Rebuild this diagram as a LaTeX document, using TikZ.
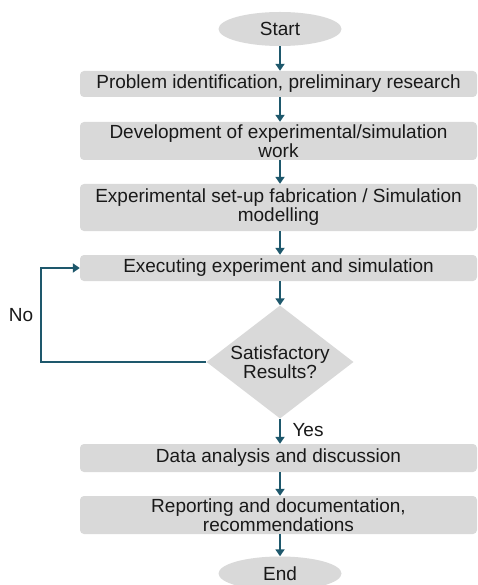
\documentclass[tikz,border=0pt]{standalone}
\usepackage{fontspec}
\setmainfont{Liberation Sans}
\usetikzlibrary{shapes.geometric,arrows.meta}
\definecolor{boxgray}{RGB}{217,217,217}
\definecolor{arrowteal}{RGB}{30,88,108}
\definecolor{txt}{RGB}{25,25,25}
\begin{document}
\begin{tikzpicture}[x=1pt,y=-1pt,
  every node/.style={text=txt,font=\fontsize{19}{19}\selectfont},
  stepbox/.style={draw=none,fill=boxgray,rounded corners=4pt,minimum width=397pt,inner sep=0pt,align=center},
  term/.style={ellipse,draw=none,fill=boxgray,minimum width=123pt,minimum height=34pt,inner sep=0pt},
  decision/.style={diamond,draw=none,fill=boxgray,minimum width=147pt,minimum height=113pt,inner sep=0pt,aspect=1.3,align=center},
  arr/.style={draw=arrowteal,line width=2pt,-{Triangle[width=9pt,length=7pt]}},
  lbl/.style={inner sep=0pt}]
\clip (0,0) rectangle (478,585);
\useasboundingbox (0,0) rectangle (478,585);
\fill[white] (0,0) rectangle (478,585);
\node[term] (start) at (280,29) {Start};
\node[stepbox,minimum height=26pt] (b1) at (278.5,84) {Problem identification, preliminary research};
\node[stepbox,minimum height=38pt] (b2) at (278.5,141) {Development of experimental/simulation\\work};
\node[stepbox,minimum height=47pt] (b3) at (278.5,207.5) {Experimental set-up fabrication / Simulation\\modelling};
\node[stepbox,minimum height=26pt] (b4) at (278.5,268) {Executing experiment and simulation};
\node[decision] (dec) at (280,362) {Satisfactory\\Results?};
\node[stepbox,minimum height=28pt] (b5) at (278.5,458) {Data analysis and discussion};
\node[stepbox,minimum height=38pt] (b6) at (278.5,515) {Reporting and documentation,\\recommendations};
\node[term] (end) at (280,573.5) {End};
\coordinate (fb) at (41,362);
\node[lbl] (no) at (21,315) {No};
\node[lbl] (yes) at (308,430) {Yes};
\draw[arr] (start.south) -- (start.south |- b1.north);
\draw[arr] (b1.south -| start.south) -- (start.south |- b2.north);
\draw[arr] (b2.south -| start.south) -- (start.south |- b3.north);
\draw[arr] (b3.south -| start.south) -- (start.south |- b4.north);
\draw[arr] (b4.south -| start.south) -- (dec.north);
\draw[arr] (dec.south) -- (start.south |- b5.north);
\draw[arr] (b5.south -| start.south) -- (start.south |- b6.north);
\draw[arr] (b6.south -| start.south) -- (end.north);
\draw[arr,rounded corners=0pt] (dec.west) -- (fb) |- (b4.west);
\end{tikzpicture}
\end{document}
